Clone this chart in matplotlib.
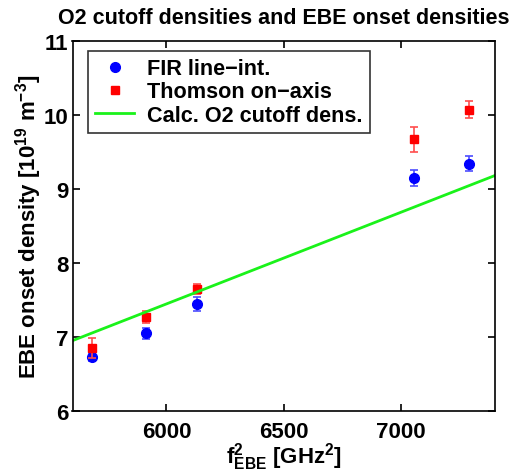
import numpy as np
import matplotlib.pyplot as plt

plt.rcParams['font.family'] = ['Liberation Sans', 'DejaVu Sans']
plt.rcParams['font.weight'] = 'bold'
plt.rcParams['mathtext.fontset'] = 'custom'
plt.rcParams['mathtext.rm'] = 'Liberation Sans:bold'
plt.rcParams['mathtext.it'] = 'Liberation Sans:bold'
plt.rcParams['mathtext.bf'] = 'Liberation Sans:bold'

# f_EBE^2 [GHz^2]
f2 = [5685, 5914, 6129, 7053, 7290]
fir = [6.73, 7.05, 7.45, 9.15, 9.34]
fir_err = [0.05, 0.075, 0.095, 0.11, 0.105]
thomson = [6.85, 7.27, 7.65, 9.67, 10.07]
thomson_err = [0.14, 0.08, 0.07, 0.17, 0.11]
cutoff_x = [5600, 7400]
cutoff_y = [6.95, 9.18]

fig = plt.figure(figsize=(5.27, 4.77), dpi=100)
ax = fig.add_axes([72.5 / 527, 1 - 412 / 477, (495 - 72.5) / 527, (412 - 41.7) / 477])

ax.errorbar(f2, fir, yerr=fir_err, fmt='none', ecolor=(0.3, 0.3, 1.0), elinewidth=1.2,
            capsize=3, capthick=1.2)
ax.plot(f2, fir, 'o', color='blue', markersize=7, label='FIR line\u2212int.')
ax.errorbar(f2, thomson, yerr=thomson_err, fmt='none', ecolor=(1.0, 0.3, 0.3), elinewidth=1.2,
            capsize=3, capthick=1.2)
ax.plot(f2, thomson, 's', color='red', markersize=5.5, label='Thomson on\u2212axis')
ax.plot(cutoff_x, cutoff_y, '-', color=(0.1, 0.95, 0.1), linewidth=2, label='Calc. O2 cutoff dens.')

ax.set_xlim(5600, 7400)
ax.set_ylim(6, 11)
ax.set_xticks([6000, 6500, 7000])
ax.set_yticks([6, 7, 8, 9, 10, 11])
ax.tick_params(direction='in', top=True, right=True, labelsize=16, width=1.2, length=5)
ax.tick_params(axis='x', pad=7)
ax.tick_params(axis='y', pad=3)
for s in ax.spines.values():
    s.set_linewidth(1.2)

ax.set_title('O2 cutoff densities and EBE onset densities', fontsize=15.5, fontweight='bold', pad=13)
ax.set_xlabel(r'$\mathregular{f^2_{EBE}}$ [GHz$\mathregular{^2}$]', fontsize=16, fontweight='bold', labelpad=-1)
ax.set_ylabel(r'EBE onset density [10$\mathregular{^{19}}$ m$\mathregular{^{-3}}$]', fontsize=16,
              fontweight='bold', labelpad=0)

leg = ax.legend(loc='upper left', bbox_to_anchor=(15 / 422.5, 1 - 10 / 370.3), borderaxespad=0,
                fontsize=15.6, frameon=True, fancybox=False, edgecolor='black',
                handlelength=1.8, handletextpad=0.6, labelspacing=0.1, borderpad=0.35)
leg.get_frame().set_linewidth(1.2)

fig.savefig('out.png', dpi=100)
